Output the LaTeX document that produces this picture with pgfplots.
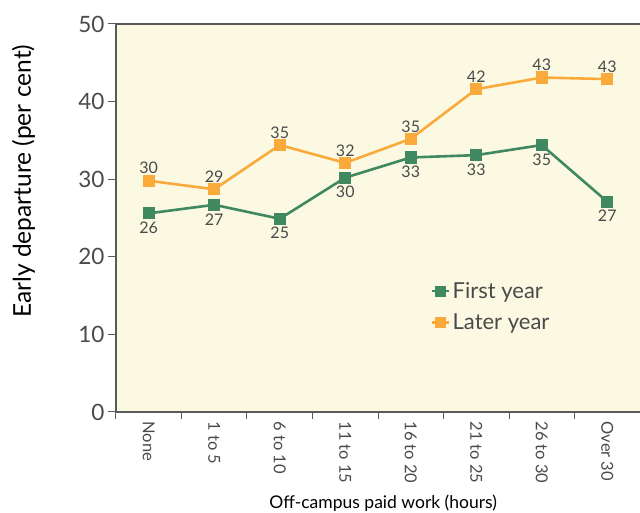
\documentclass[border=0pt]{standalone}
\usepackage{pgfplots}
\pgfplotsset{compat=1.18}
\usepackage{fontspec}
\setmainfont{Lato}
\definecolor{bgc}{HTML}{FCF9E3}
\definecolor{fy}{HTML}{3F8860}
\definecolor{ly}{HTML}{F9AA3B}
\definecolor{txt}{HTML}{4A4A4A}
\definecolor{axc}{HTML}{5A5A5A}

\begin{document}
\begin{tikzpicture}
\begin{axis}[
    name=ax,
    scale only axis,
    width=524pt, height=388pt,
    xmin=-0.5, xmax=7.5,
    ymin=0, ymax=50,
    axis x line*=bottom,
    axis y line*=left,
    axis line style={axc, line width=1.6pt, -},
    axis background/.style={fill=bgc},
    xtick={0,...,7},
    xticklabels={None,1 to 5,6 to 10,11 to 15,16 to 20,21 to 25,26 to 30,Over 30},
    major x tick style={draw=none},
    minor xtick={-0.5,0.5,...,6.5},
    minor tick length=7pt,
    minor x tick style={axc, line width=1pt},
    ytick={0,10,...,50},
    major tick length=8pt,
    y tick style={axc, line width=1pt},
    tick align=outside,
    tick label style={txt},
    x tick label style={rotate=-90, anchor=west, font=\fontsize{16.5}{18}\selectfont, xshift=-2pt},
    y tick label style={font=\fontsize{22.5}{24}\selectfont},
    /pgf/number format/assume math mode=true,
    xlabel={Off-campus paid work (hours)},
    xlabel style={font=\fontsize{17.5}{20}\selectfont, text=black, at={(rel axis cs:0.51,0)}, anchor=base, yshift=-97pt},
    ylabel={Early departure (per cent)},
    ylabel style={font=\fontsize{24.5}{28}\selectfont, text=black, at={(rel axis cs:0,0.595)}, anchor=base, yshift=85pt},
    legend style={at={(rel axis cs:0.595,0.345)}, anchor=north west, draw=none, fill=none,
        font=\fontsize{22}{24}\selectfont, text=txt, row sep=10pt},
    legend image post style={mark size=4.2pt},
    legend cell align=left,
    every node near coord/.append style={font=\fontsize{16}{18}\selectfont, text=txt},
    clip=false,
]
\coordinate (bl) at (rel axis cs:0,0);
\coordinate (tr) at (rel axis cs:1,1);
\draw[axc, line width=1.6pt] (rel axis cs:0,1) -- (rel axis cs:1,1);

\addplot[fy, line width=2.6pt, mark=square*, mark size=4.8pt,
    nodes near coords, point meta=explicit symbolic,
    every node near coord/.append style={anchor=north, yshift=-4pt}]
    coordinates {(0,25.6)[26] (1,26.7)[27] (2,24.9)[25] (3,30.2)[30]
                 (4,32.8)[33] (5,33.1)[33] (6,34.4)[35] (7,27.1)[27]};
\addlegendentry{First year}
\addplot[ly, line width=2.6pt, mark=square*, mark size=4.8pt,
    nodes near coords, point meta=explicit symbolic,
    every node near coord/.append style={anchor=south, yshift=2pt}]
    coordinates {(0,29.8)[30] (1,28.7)[29] (2,34.4)[35] (3,32.1)[32]
                 (4,35.2)[35] (5,41.6)[42] (6,43.1)[43] (7,42.9)[43]};
\addlegendentry{Later year}
\end{axis}
\pgfresetboundingbox
\path ([shift={(-116pt,-101pt)}]bl) rectangle ([shift={(0pt,24pt)}]tr);
\end{tikzpicture}
\end{document}
